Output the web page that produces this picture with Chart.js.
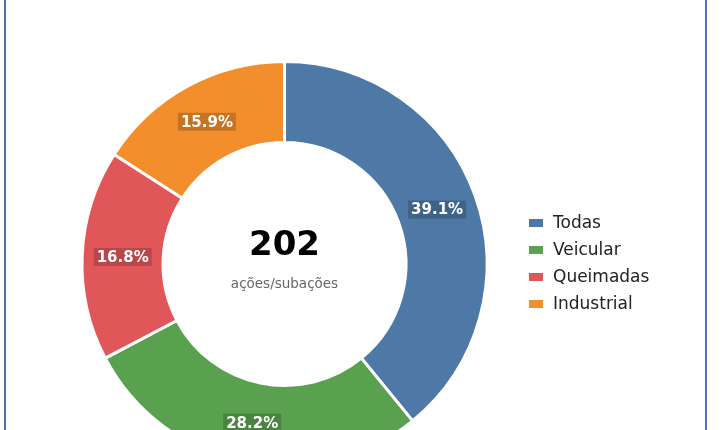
<!DOCTYPE html>
<html>
<head>
<meta charset="utf-8">
<script src="https://cdn.jsdelivr.net/npm/chart.js@4.4.1/dist/chart.umd.min.js"></script>
<style>
    body {
        margin: 0;
        width: 720px;
        height: 430px;
        overflow: hidden;
        background: #fff;
        font-family: "DejaVu Sans", sans-serif;
        position: relative;
    }
    .frame {
        position: absolute;
        left: 4px;
        top: 0;
        width: 699px;
        height: 430px;
        border-left: 2px solid #4a77a6;
        border-right: 2px solid #4a77a6;
    }
    .chart-box {
        position: absolute;
        left: 0;
        top: 0;
        width: 569px;
        height: 528px;
    }
    #legend {
        position: absolute;
        left: 529px;
        top: 209px;
        margin: 0;
        padding: 0;
        list-style: none;
        font-size: 17px;
        color: #222;
    }
    #legend li {
        height: 27px;
        line-height: 27px;
        white-space: nowrap;
    }
    #legend span {
        display: inline-block;
        width: 14px;
        height: 8px;
        margin-right: 10px;
        vertical-align: 1px;
    }
</style>
</head>
<body>
<div class="frame"></div>
<div class="chart-box"><canvas id="donut-chart"></canvas></div>
<ul id="legend"></ul>

<script>
// data
var categories = ['Todas', 'Veicular', 'Queimadas', 'Industrial'];
var shares = [39.1, 28.2, 16.8, 15.9];
var colors = ['#4e79a7', '#59a14f', '#e15759', '#f28e2b'];
var totalActions = 202;
var centerCaption = 'ações/subações';

// legend
var legend = document.getElementById('legend');
categories.forEach(function (name, i) {
    var li = document.createElement('li');
    var box = document.createElement('span');
    box.style.background = colors[i];
    li.appendChild(box);
    li.appendChild(document.createTextNode(name));
    legend.appendChild(li);
});

// percent labels on the ring, with a darker box behind
var sliceLabels = {
    id: 'sliceLabels',
    afterDatasetsDraw: function (chart) {
        var ctx = chart.ctx;
        var arcs = chart.getDatasetMeta(0).data;
        ctx.save();
        ctx.font = 'bold 15px "DejaVu Sans"';
        ctx.textAlign = 'center';
        ctx.textBaseline = 'middle';
        arcs.forEach(function (arc, i) {
            var p = arc.getCenterPoint();
            var text = shares[i].toFixed(1) + '%';
            var w = ctx.measureText(text).width + 6;
            var h = 18;
            ctx.fillStyle = colors[i];
            ctx.fillRect(p.x - w / 2, p.y - h / 2, w, h);
            ctx.fillStyle = 'rgba(0, 0, 0, 0.18)';
            ctx.fillRect(p.x - w / 2, p.y - h / 2, w, h);
            ctx.fillStyle = '#fff';
            ctx.fillText(text, p.x, p.y + 1);
        });
        ctx.restore();
    }
};

// total in the hole
var centerText = {
    id: 'centerText',
    afterDraw: function (chart) {
        var ctx = chart.ctx;
        var arc = chart.getDatasetMeta(0).data[0];
        ctx.save();
        ctx.textAlign = 'center';
        ctx.textBaseline = 'middle';
        ctx.fillStyle = '#000';
        ctx.font = 'bold 34px "DejaVu Sans"';
        ctx.fillText(String(totalActions), arc.x, arc.y - 18);
        ctx.fillStyle = '#666';
        ctx.font = '13.5px "DejaVu Sans"';
        ctx.fillText(centerCaption, arc.x, arc.y + 20);
        ctx.restore();
    }
};

var ctx = document.getElementById('donut-chart').getContext('2d');
var donutChart = new Chart(ctx, {
    type: 'doughnut',
    data: {
        labels: categories,
        datasets: [{
            data: shares,
            backgroundColor: colors,
            borderColor: '#fff',
            borderWidth: 3
        }]
    },
    options: {
        responsive: true,
        maintainAspectRatio: false,
        animation: false,
        cutout: '60%',
        layout: {
            padding: { top: 60, bottom: 60, left: 0, right: 0 }
        },
        plugins: {
            legend: { display: false },
            tooltip: { enabled: false }
        }
    },
    plugins: [sliceLabels, centerText]
});
</script>
</body>
</html>
